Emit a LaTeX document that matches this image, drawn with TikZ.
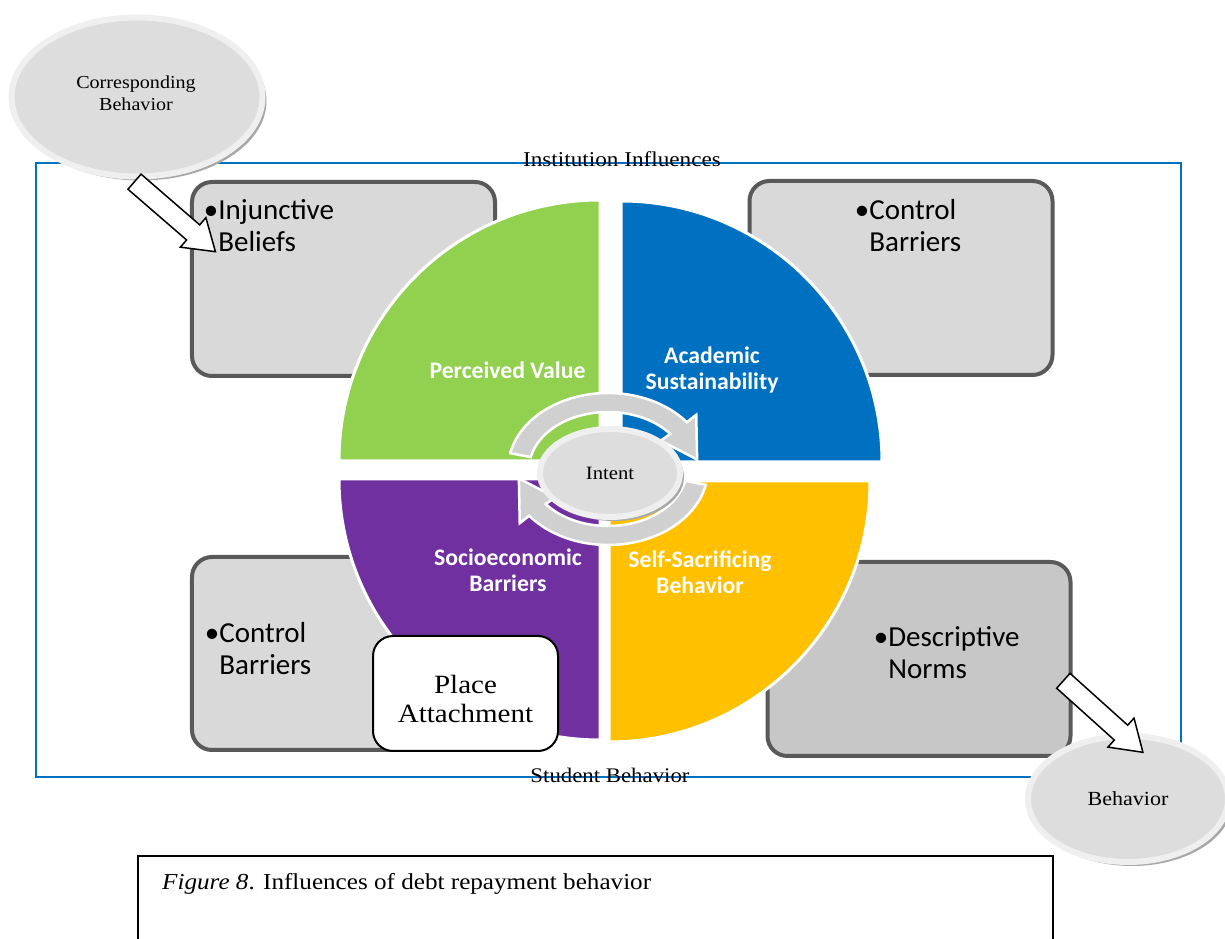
\documentclass[tikz,border=0pt]{standalone}
\usepackage{fontspec}
\setmainfont[FakeStretch=1.1]{Liberation Serif}
\newfontfamily\boxfont{Carlito}
\usetikzlibrary{shapes.geometric,shapes.arrows,shadows}
\definecolor{framblue}{HTML}{0070C0}
\definecolor{boxgray}{HTML}{D9D9D9}
\definecolor{boxedge}{HTML}{595959}
\definecolor{normgray}{HTML}{C7C7C7}
\definecolor{bubblegray}{HTML}{DDDDDD}
\definecolor{rimgray}{HTML}{EFEFEF}
\definecolor{shadowgray}{HTML}{A8A8A8}
\definecolor{turngray}{HTML}{D0D0D0}
\definecolor{pvgreen}{HTML}{92D050}
\definecolor{asblue}{HTML}{0070C0}
\definecolor{sepurple}{HTML}{7030A0}
\definecolor{ssyellow}{HTML}{FFC000}

\begin{document}
\begin{tikzpicture}[x=0.2mm, y=0.2mm,
  barrier/.style={draw=boxedge, fill=boxgray, line width=0.8mm, rounded corners=4mm, minimum width=60.6mm, minimum height=38.8mm},
  boxtext/.style={font=\boxfont\fontsize{16.5}{18.5}\selectfont, align=left, inner sep=0pt, anchor=north west},
  quarter/.style={draw=white, line width=0.6mm},
  qlabel/.style={text=white, font=\boxfont\bfseries\fontsize{13.5}{15}\selectfont, align=center},
  bubble/.style={ellipse, draw=rimgray, fill=bubblegray, line width=1.2mm, align=center,
    drop shadow={shadow xshift=0.8mm, shadow yshift=-0.8mm, fill=shadowgray, opacity=1}},
  blockarrow/.style={single arrow, draw=black, fill=white, line width=0.3mm, inner xsep=0pt, inner ysep=1.85mm,
    minimum height=21.4mm, single arrow head extend=1.9mm, single arrow tip angle=67, sloped, midway},
  turn/.style={fill=turngray, draw=white, line width=0.5mm}]
\useasboundingbox (0,0) rectangle (1225,939);

% Frame
\draw[framblue, line width=0.3mm] (36,162) rectangle (1181,776);
\node[font=\fontsize{12}{14}\selectfont] (inst) at (622,780) {Institution Influences};
\node[font=\fontsize{11.8}{14}\selectfont] (stud) at (610,164) {Student Behavior};

% Barrier boxes
\node[barrier] (injb) at (343.5,660) {};
\node[boxtext] (injbtxt) at (218,740) {\llap{•}Injunctive\\Beliefs};

\node[barrier] (ctrt) at (901,661) {};
\node[boxtext] (ctrttxt) at (869,740) {\llap{•}Control\\Barriers};

\node[barrier, minimum width=61.2mm, minimum height=38.6mm] (ctbl) at (345,285.5) {};
\node[boxtext] (ctbltxt) at (219,317) {\llap{•}Control\\Barriers};

\node[barrier, fill=normgray] (desc) at (919,280) {};
\node[boxtext] (desctxt) at (888,313) {\llap{•}Descriptive\\Norms};

% Quarters
\draw[quarter, fill=pvgreen] (600,478) -- ++(-261,0) arc[start angle=180, end angle=90, radius=261] -- cycle;
\draw[quarter, fill=asblue] (621,477) -- ++(0,261) arc[start angle=90, end angle=0, radius=261] -- cycle;
\draw[quarter, fill=sepurple] (600,460) -- ++(0,-261) arc[start angle=270, end angle=180, radius=261] -- cycle;
\draw[quarter, fill=ssyellow] (609,458) -- ++(261,0) arc[start angle=0, end angle=-90, radius=261] -- cycle;
\node[qlabel] (pv) at (507.5,569) {Perceived Value};
\node[qlabel] (as) at (712,569) {Academic\\Sustainability};
\node[qlabel] (se) at (508,369) {Socioeconomic\\Barriers};
\node[qlabel] (ss) at (700,367) {Self-Sacrificing\\Behavior};

% Cycle arrows
\begin{scope}[shift={(608,470)}]
\foreach \r in {0,180}
  \draw[turn, rotate=\r] (168:100 and 76) arc[start angle=168, end angle=38, x radius=100, y radius=76]
    -- (38:112 and 88) -- (8:90 and 68) -- (38:67 and 46) -- (38:79 and 57)
    arc[start angle=38, end angle=168, x radius=79, y radius=57] -- cycle;
\end{scope}

% Intent
\node[bubble, minimum width=28mm, minimum height=17.6mm, font=\fontsize{10.7}{13}\selectfont] (intent) at (610,466) {Intent};

% Place Attachment
\node[draw, fill=white, rounded corners=4mm, line width=0.4mm, minimum width=37mm, minimum height=23mm] (place) at (465.5,245.5) {};
\node[align=center, font=\fontsize{15}{17}\selectfont] (placetxt) at (465.5,240) {Place\\Attachment};

% Behaviors
\node[bubble, minimum width=50.2mm, minimum height=31.8mm] (corr) at (137,842) {};
\node[align=center, font=\fontsize{10.4}{12.5}\selectfont] (corrtxt) at (136,846) {Corresponding\\Behavior};
\node[bubble, minimum width=40mm, minimum height=25.2mm, font=\fontsize{11.4}{13}\selectfont] (beh) at (1128,140) {Behavior};

\coordinate (corrtail) at (128.5,762.5);
\coordinate (injtip) at (210,692);
\path (corrtail) -- (injtip) node[blockarrow] (toinj) {};

\coordinate (desctail) at (1058,263);
\coordinate (behtip) at (1137,192);
\path (desctail) -- (behtip) node[blockarrow] (tobeh) {};

% Caption
\draw[line width=0.4mm] (138,-5) -- (138,83) -- (1053,83) -- (1053,-5);
\node[anchor=west, font=\fontsize{13}{15}\selectfont] (caption) at (156,55) {\textit{Figure 8}. Influences of debt repayment behavior};
\end{tikzpicture}
\end{document}
